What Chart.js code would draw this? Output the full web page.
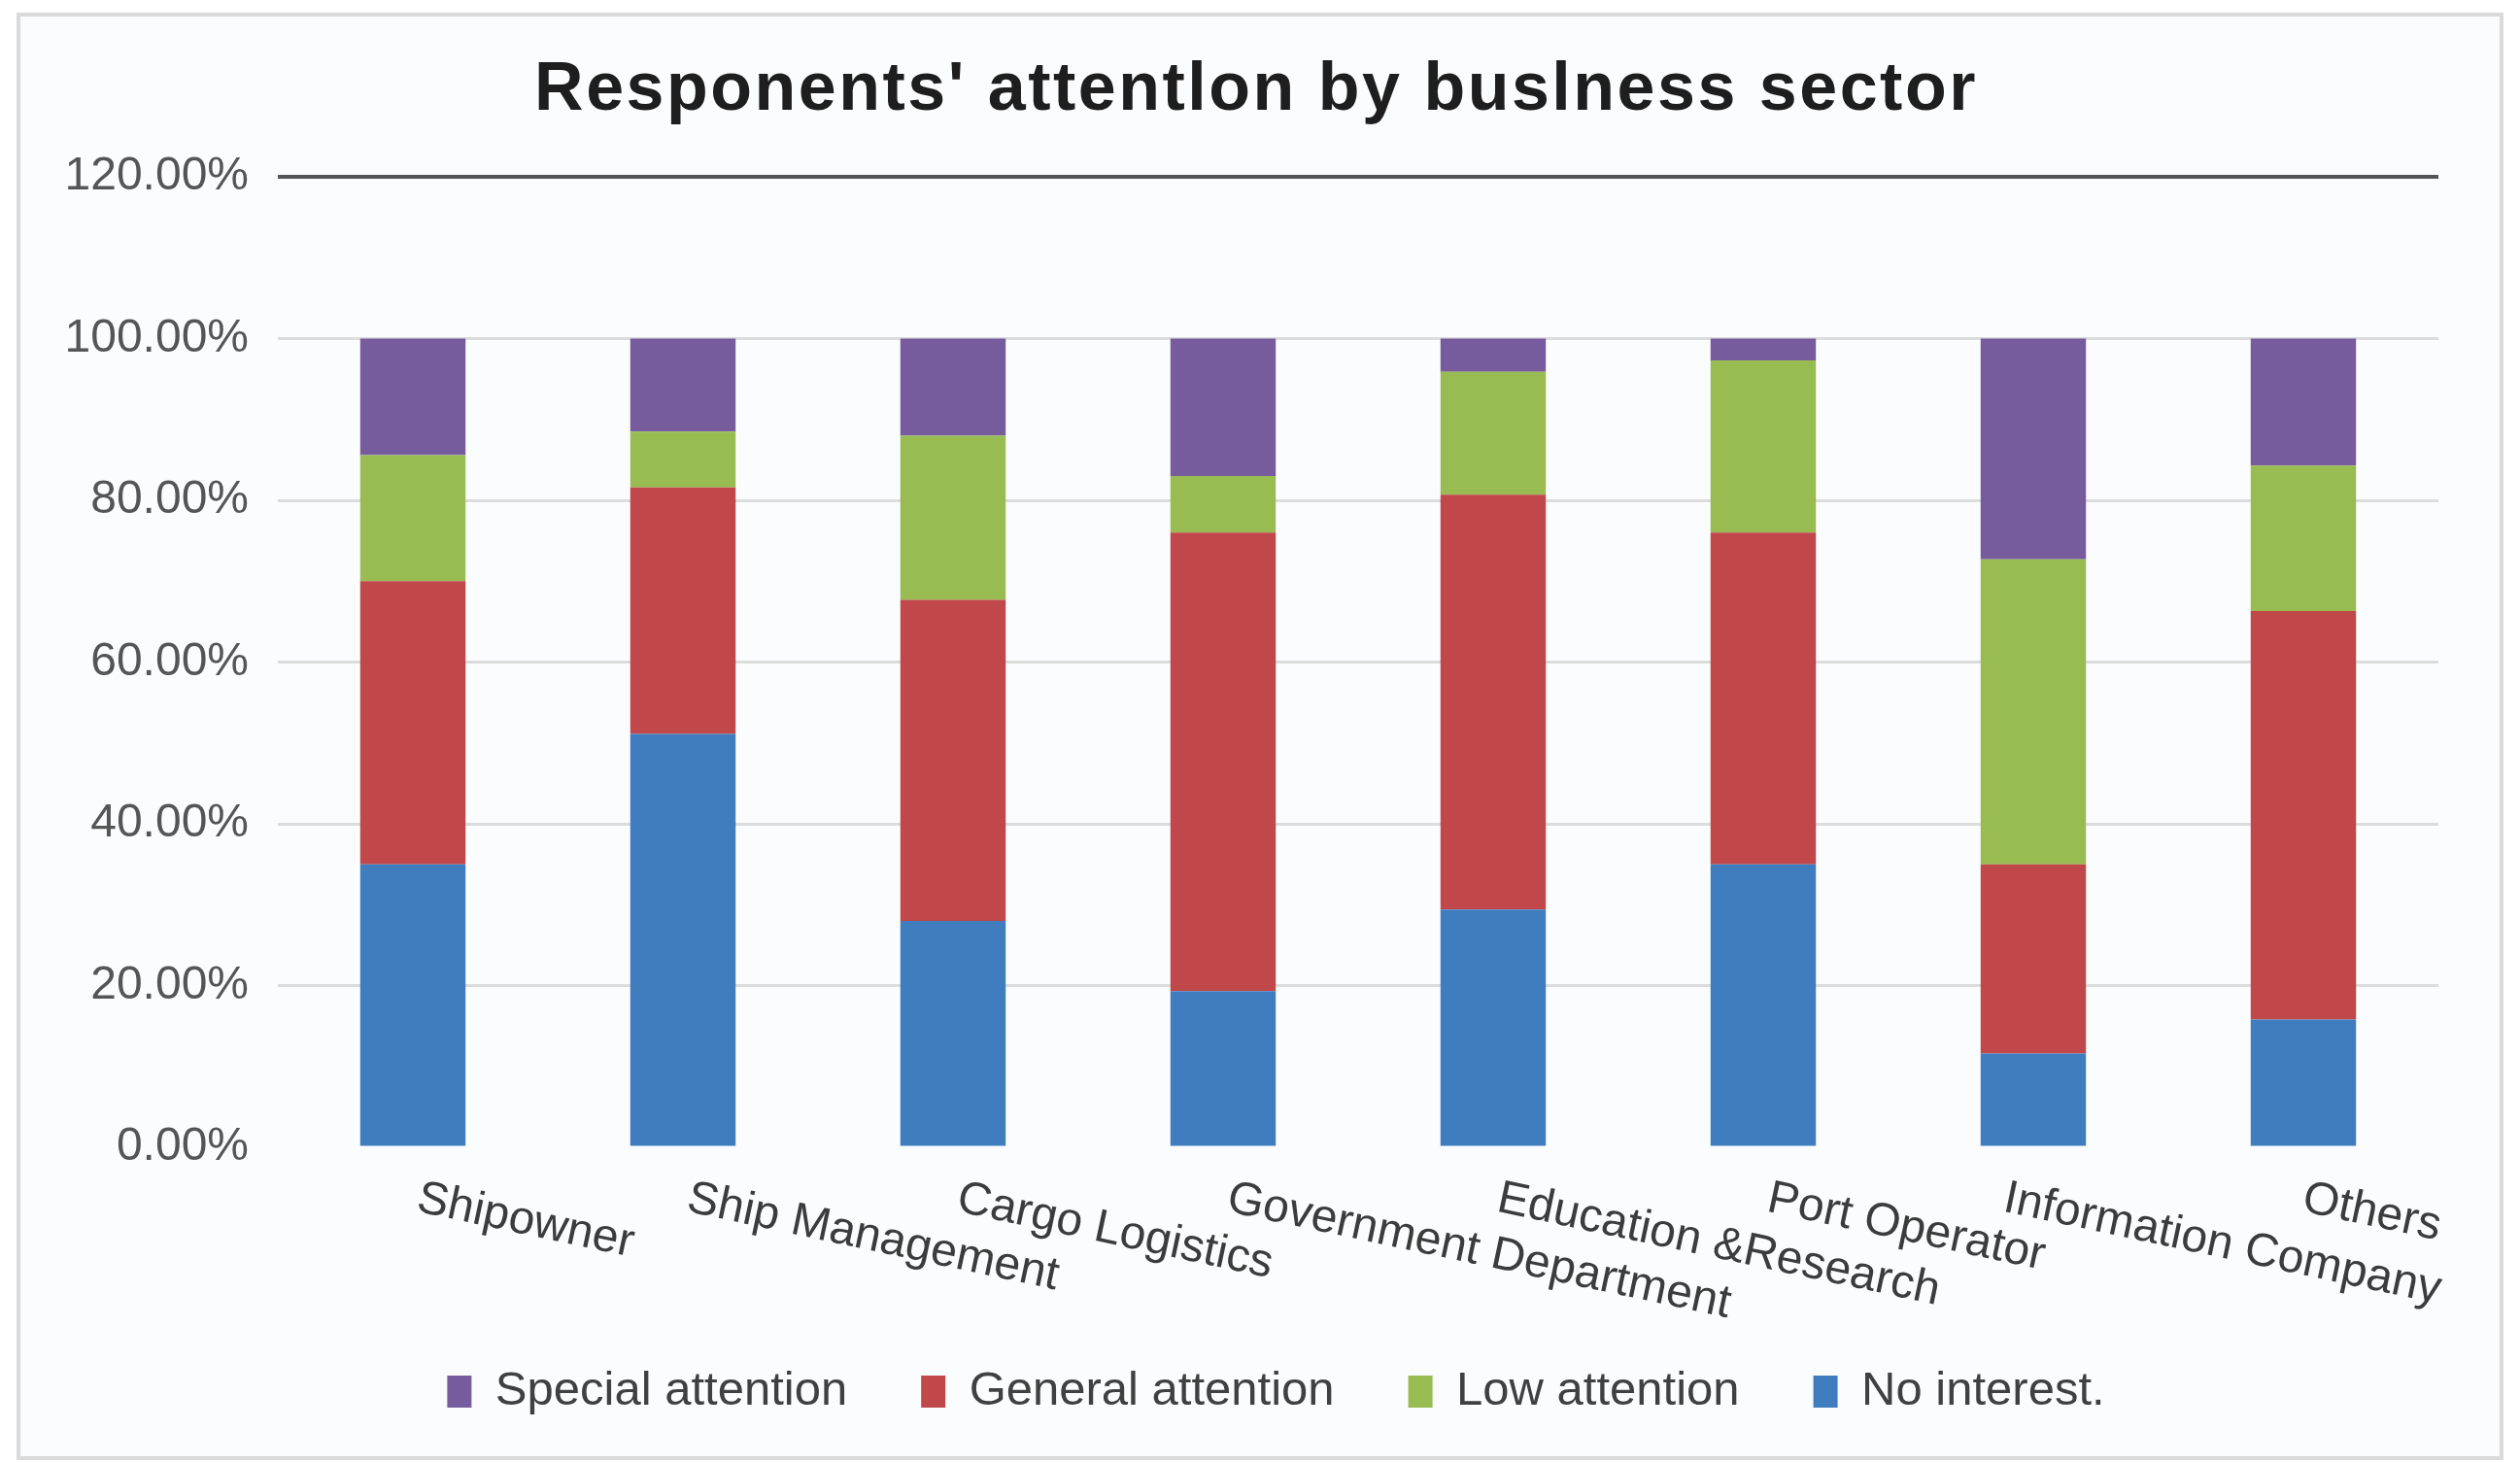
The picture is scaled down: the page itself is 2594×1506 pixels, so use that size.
<!DOCTYPE html>
<html>
<head>
<meta charset="utf-8">
<title>Responents' attention by business sector</title>
<script src="https://cdn.jsdelivr.net/npm/chart.js@4.4.1/dist/chart.umd.min.js"></script>
<style>
  html, body { margin: 0; padding: 0; background: #ffffff; }
  body { width: 2594px; height: 1506px; position: relative; overflow: hidden; }
  #card {
    position: absolute; left: 17px; top: 13px;
    width: 2552px; height: 1482px;
    border: 4px solid #dadada;
    background: #fbfcfd;
  }
  canvas { display: block; }
</style>
</head>
<body>
<div id="card">
  <canvas id="sectorChart" width="2552" height="1482" style="width:2552px;height:1482px"></canvas>
</div>
<script>
const chartTitle = "Responents' attentlon by buslness sector";
const categories = [
  "Shipowner", "Ship Management", "Cargo Logistics", "Government Department",
  "Education &Research", "Port Operator", "Information Company", "Others"
];
// percent of respondents
const noInterest       = [35.0, 51.1, 28.0, 19.3, 29.4, 35.0, 11.6, 15.8];
const generalAttention = [35.0, 30.5, 39.7, 56.7, 51.3, 41.0, 23.4, 50.5];
const lowAttention     = [15.6,  6.9, 20.3,  7.0, 15.2, 21.3, 37.7, 18.0];
const specialAttention = [14.4, 11.5, 12.0, 17.0,  4.1,  2.7, 27.3, 15.7];
const yTicks = [0, 20, 40, 60, 80, 100, 120];
const legendOrder = ["Special attention", "General attention", "Low attention", "No interest."];

const FONT = '"Liberation Sans", Arial, Helvetica, sans-serif';

// title (letter-spaced) and the category labels, which slant down to the right
const extraText = {
  id: "extraText",
  afterLayout(chart) {
    // legend sits a little right of centre in the original
    chart.legend.left += 48;
    chart.legend.right += 48;
  },
  afterDraw(chart) {
    const { ctx, chartArea } = chart;
    const x = chart.scales.x;

    ctx.save();
    ctx.font = "bold 70px " + FONT;
    ctx.letterSpacing = "2.5px";
    ctx.fillStyle = "#1e1e1e";
    ctx.textAlign = "center";
    ctx.textBaseline = "alphabetic";
    ctx.fillText(chartTitle, chart.width / 2 - 4, 96);
    ctx.restore();

    const angle = 12 * Math.PI / 180;
    const rightLimit = chartArea.right + 7;
    ctx.save();
    ctx.font = "48px " + FONT;
    ctx.fillStyle = "#3c3c3c";
    ctx.textAlign = "left";
    ctx.textBaseline = "top";
    categories.forEach((label, i) => {
      const w = ctx.measureText(label).width * Math.cos(angle);
      let left = x.getPixelForTick(i) + 10;
      if (left + w > rightLimit) left = rightLimit - w;
      ctx.save();
      ctx.translate(left, chartArea.bottom + 29);
      ctx.rotate(angle);
      ctx.fillText(label, 0, 0);
      ctx.restore();
    });
    ctx.restore();
  }
};

new Chart(document.getElementById("sectorChart"), {
  type: "bar",
  data: {
    labels: categories,
    datasets: [
      { label: "No interest.", data: noInterest, backgroundColor: "#3f7dbf" },
      { label: "General attention", data: generalAttention, backgroundColor: "#c0474a" },
      { label: "Low attention", data: lowAttention, backgroundColor: "#98bb52" },
      { label: "Special attention", data: specialAttention, backgroundColor: "#775c9d" }
    ]
  },
  options: {
    responsive: false,
    animation: false,
    devicePixelRatio: 1,
    layout: { padding: { left: 0, right: 63, top: 165, bottom: 32 } },
    datasets: { bar: { barPercentage: 0.39, categoryPercentage: 1.0 } },
    plugins: {
      title: { display: false },
      legend: {
        position: "bottom",
        labels: {
          color: "#404040",
          font: { family: FONT, size: 49 },
          boxWidth: 25,
          boxHeight: 33,
          padding: 76,
          sort: (a, b) => legendOrder.indexOf(a.text) - legendOrder.indexOf(b.text)
        }
      },
      tooltip: { enabled: false }
    },
    scales: {
      x: {
        stacked: true,
        grid: { display: false },
        border: { display: false },
        ticks: { display: false },
        afterFit: s => { s.height = 151; }
      },
      y: {
        stacked: true,
        min: 0,
        max: 120,
        afterBuildTicks: s => { s.ticks = yTicks.map(v => ({ value: v })); },
        afterFit: s => { s.width = 265; },
        border: { display: false },
        grid: {
          drawTicks: false,
          color: c => c.tick.value === 120 ? "#555555" : (c.tick.value === 0 ? "rgba(0,0,0,0)" : "#dcdcdc"),
          lineWidth: c => c.tick.value === 120 ? 4 : 3
        },
        ticks: {
          padding: 30,
          color: "#555555",
          font: { family: FONT, size: 48 },
          callback: v => v.toFixed(2) + "%"
        }
      }
    }
  },
  plugins: [extraText]
});
</script>
</body>
</html>
